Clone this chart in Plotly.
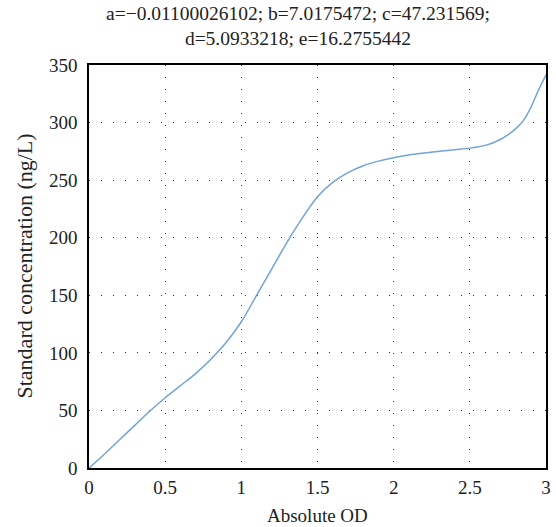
import plotly.graph_objects as go

od = [0.0, 0.1, 0.2, 0.3, 0.4, 0.5, 0.6, 0.7, 0.8, 0.9, 1.0, 1.1, 1.2, 1.3, 1.4, 1.5,
      1.6, 1.7, 1.8, 1.9, 2.0, 2.1, 2.2, 2.3, 2.4, 2.5, 2.55, 2.6, 2.65, 2.7, 2.75, 2.8, 2.85, 2.9, 2.95, 3.0]
conc = [0.0, 12.0, 24.5, 37.0, 49.5, 61.0, 71.5, 82.0, 94.5, 109.0, 127.0, 150.0, 173.0, 196.0, 217.0, 235.6,
        248.0, 256.5, 262.5, 266.5, 269.5, 271.8, 273.5, 275.0, 276.4, 277.8, 278.8, 280.2, 282.3, 285.3, 289.3,
        294.5, 301.5, 313.0, 328.0, 341.5]

title_text = "a=\u22120.01100026102; b=7.0175472; c=47.231569;<br>d=5.0933218; e=16.2755442"
x_label = "Absolute OD"
y_label = "Standard concentration (ng/L)"
x_ticks = [0, 0.5, 1, 1.5, 2, 2.5, 3]
y_ticks = [0, 50, 100, 150, 200, 250, 300, 350]

font = "Liberation Serif, DejaVu Serif, serif"

fig = go.Figure()
fig.add_trace(go.Scatter(x=od, y=conc, mode="lines",
                         line=dict(color="#72a3da", width=1.5, shape="spline", smoothing=1.0),
                         showlegend=False))

grid = dict(showgrid=True, gridcolor="#333333", gridwidth=1.3, griddash="1px,11px")
fig.update_xaxes(range=[0, 3], tickvals=x_ticks, ticktext=[str(t) for t in x_ticks],
                 showline=True, linecolor="black", linewidth=1.5, mirror=True,
                 ticks="", zeroline=False, ticklabelstandoff=1, automargin=False,
                 tickfont=dict(size=19), **grid)
fig.update_yaxes(range=[0, 350], tickvals=y_ticks,
                 showline=True, linecolor="black", linewidth=1.5, mirror=True,
                 ticks="", zeroline=False, ticklabelstandoff=6, automargin=False,
                 tickfont=dict(size=19), **grid)

fig.update_layout(
    width=556, height=527,
    margin=dict(l=89, r=10, t=65, b=59, autoexpand=False),
    paper_bgcolor="white", plot_bgcolor="white",
    font=dict(family=font, color="#222222", size=19),
    annotations=[
        dict(text=title_text, xref="paper", yref="paper", x=(298 - 89) / 457, y=1.0,
             xanchor="center", yanchor="bottom", yshift=14, showarrow=False,
             font=dict(size=19.5)),
        dict(text=x_label, xref="paper", yref="paper", x=0.5, y=0.0,
             xanchor="center", yanchor="middle", yshift=-47, showarrow=False,
             font=dict(size=19)),
        dict(text=y_label, xref="paper", yref="paper", x=0.0, y=0.5,
             xanchor="center", yanchor="middle", xshift=-65, textangle=-90, showarrow=False,
             font=dict(size=22)),
    ],
)

fig.write_html("out.html", config={"displayModeBar": False},
               post_script="document.body.style.margin='0';document.body.style.overflow='hidden';")
